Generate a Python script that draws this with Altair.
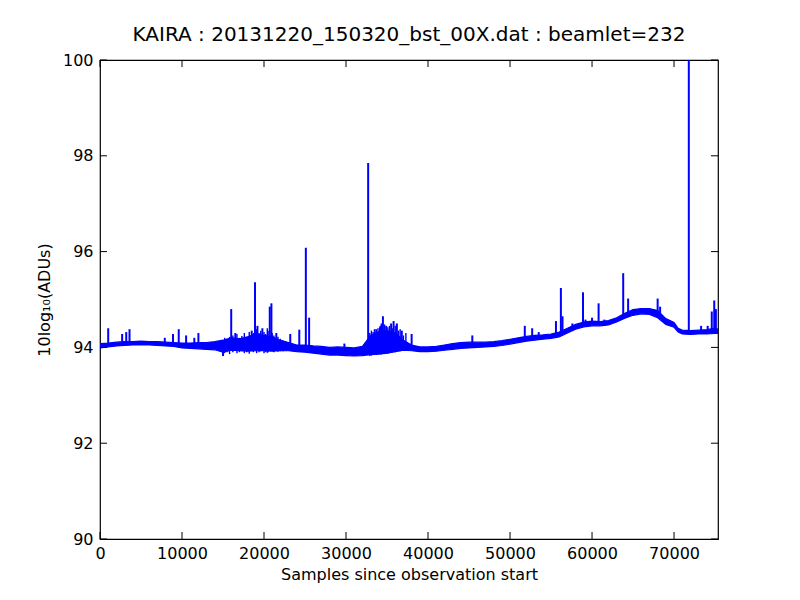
import altair as alt
import pandas as pd

# Band (noise envelope)
band_x = [0, 1000, 2000, 3000, 4000, 5000, 6000, 7000, 8000, 9000,
          10000, 11000, 12000, 13000, 14000, 15000, 16000, 17000, 18000, 19000,
          20000, 21000, 22000, 23000, 24000, 25000, 26000, 27000, 28000, 29000,
          30000, 31000, 32000, 33000, 34000, 35000, 36000, 37000, 38000, 39000,
          40000, 41000, 42000, 43000, 44000, 45000, 46000, 47000, 48000, 49000,
          50000, 51000, 52000, 53000, 54000, 55000, 56000, 57000, 58000, 59000,
          60000, 61000, 62000, 63000, 64000, 65000, 66000, 67000, 68000, 69000,
          70000, 70500, 71000, 72000, 73000, 74000, 75000, 75360]
band_lo = [93.99, 94.01, 94.03, 94.04, 94.05, 94.05, 94.05, 94.04, 94.03, 94.02,
           93.99, 93.98, 93.97, 93.96, 93.95, 93.90, 93.94, 93.93, 93.92, 93.93,
           93.93, 93.92, 93.93, 93.93, 93.91, 93.90, 93.88, 93.86, 93.84, 93.84,
           93.83, 93.82, 93.83, 93.85, 93.86, 93.88, 93.91, 93.94, 93.93, 93.91,
           93.91, 93.92, 93.94, 93.96, 93.98, 93.99, 94.00, 94.01, 94.02, 94.04,
           94.07, 94.10, 94.13, 94.15, 94.17, 94.19, 94.22, 94.30, 94.38, 94.43,
           94.45, 94.45, 94.47, 94.53, 94.61, 94.67, 94.70, 94.69, 94.62, 94.48,
           94.42, 94.32, 94.28, 94.27, 94.28, 94.28, 94.29, 94.29]
band_hi = [94.08, 94.09, 94.11, 94.12, 94.12, 94.13, 94.12, 94.12, 94.11, 94.10,
           94.09, 94.09, 94.10, 94.10, 94.12, 94.15, 94.20, 94.18, 94.22, 94.28,
           94.25, 94.22, 94.15, 94.10, 94.05, 94.05, 94.03, 94.02, 94.00, 94.01,
           94.00, 93.99, 94.02, 94.25, 94.33, 94.35, 94.30, 94.15, 94.05, 94.01,
           94.01, 94.02, 94.05, 94.08, 94.10, 94.11, 94.11, 94.11, 94.12, 94.14,
           94.17, 94.20, 94.23, 94.25, 94.26, 94.28, 94.32, 94.40, 94.48, 94.53,
           94.55, 94.54, 94.56, 94.62, 94.71, 94.79, 94.81, 94.81, 94.77, 94.60,
           94.52, 94.40, 94.36, 94.35, 94.36, 94.37, 94.40, 94.38]

# Spikes: position, peak, base
spike_x = [1000, 2700, 3200, 3600, 7900, 8900, 9600, 10500, 11500, 12000,
           15000, 16000, 16500, 18500, 18900, 19200, 19800, 20700, 20900, 21500,
           23200, 24300, 25100, 25500, 29800, 32700, 33500, 34200, 34500, 34900,
           35500, 35800, 36200, 36800, 38000, 45400, 51800, 52700, 53500, 55600,
           56200, 56400, 57600, 58900, 59200, 60000, 60800, 61500, 63800, 64400,
           68000, 68300, 71800, 73300, 74100, 74600, 74900, 75100]
spike_top = [94.40, 94.28, 94.32, 94.38, 94.20, 94.28, 94.38, 94.25, 94.20, 94.30,
             93.82, 94.80, 94.30, 94.35, 95.36, 94.45, 94.40, 94.85, 94.92, 94.30,
             94.28, 94.37, 96.08, 94.62, 94.08, 97.85, 94.38, 94.45, 94.65, 94.45,
             94.50, 94.55, 94.50, 94.35, 94.28, 94.25, 94.45, 94.40, 94.32, 94.55,
             95.24, 94.65, 94.50, 95.15, 94.58, 94.62, 94.92, 94.58, 95.55, 95.02,
             95.02, 94.85, 101.0, 94.45, 94.45, 94.75, 94.98, 94.80]
spike_base = [94.05, 94.08, 94.08, 94.08, 94.08, 94.08, 94.05, 94.05, 94.05, 94.05,
              94.05, 94.05, 94.05, 94.05, 94.05, 94.05, 94.05, 94.05, 94.05, 94.05,
              94.00, 94.00, 93.98, 93.98, 93.95, 93.95, 94.00, 94.00, 94.00, 94.00,
              94.00, 94.00, 94.00, 94.00, 94.00, 94.05, 94.15, 94.18, 94.20, 94.25,
              94.28, 94.28, 94.35, 94.45, 94.45, 94.50, 94.50, 94.50, 94.60, 94.65,
              94.70, 94.65, 94.30, 94.32, 94.32, 94.32, 94.32, 94.32]

# Dense small noise excursions in the two disturbed stretches
noise_x = [14600, 14900, 15200, 15500, 15800, 16200, 16700, 17000, 17300, 17600,
           17900, 18200, 18700, 19100, 19400, 19600, 20000, 20200, 20400, 20500,
           21000, 21200, 21700, 22000, 22300,
           32900, 33100, 33300, 33700, 33900, 34100, 34300, 34700, 35100, 35300,
           35700, 36000, 36400, 36600, 37000, 37300]
noise_top = [94.12, 94.15, 94.20, 94.18, 94.22, 94.25, 94.28, 94.20, 94.24, 94.30,
             94.22, 94.32, 94.30, 94.38, 94.30, 94.35, 94.32, 94.28, 94.40, 94.35,
             94.30, 94.25, 94.22, 94.18, 94.15,
             94.30, 94.35, 94.32, 94.38, 94.40, 94.42, 94.50, 94.48, 94.42, 94.45,
             94.40, 94.45, 94.35, 94.38, 94.25, 94.30]
noise_base = [93.92, 93.90, 93.88, 93.90, 93.86, 93.90, 93.88, 93.90, 93.92, 93.88,
              93.90, 93.87, 93.90, 93.88, 93.90, 93.92, 93.88, 93.90, 93.89, 93.90,
              93.92, 93.90, 93.91, 93.92, 93.92,
              93.82, 93.83, 93.84, 93.84, 93.85, 93.86, 93.85, 93.86, 93.87, 93.88,
              93.90, 93.90, 93.92, 93.92, 93.94, 93.94]

x_ticks = [0, 10000, 20000, 30000, 40000, 50000, 60000, 70000]
y_ticks = [90, 92, 94, 96, 98, 100]

X_MAX = 75360
W, H = 618, 479
BLUE = "#0000ff"
FONT = "DejaVu Sans"

band = pd.DataFrame({"x": band_x, "lo": band_lo, "hi": band_hi})
spikes = pd.DataFrame({"x": spike_x, "top": spike_top, "base": spike_base})
noise = pd.DataFrame({"x": noise_x, "top": noise_top, "base": noise_base})
xt = pd.DataFrame({"x": x_ticks})
yt = pd.DataFrame({"y": y_ticks})

xscale = alt.Scale(domain=[0, X_MAX], nice=False, zero=False)
yscale = alt.Scale(domain=[90, 100], nice=False, zero=False)

xaxis = alt.Axis(values=x_ticks, format="d", tickSize=0, labelPadding=6, domain=False,
                 grid=False, labelFont=FONT, labelFontSize=16, labelColor="black",
                 title="Samples since observation start", titleFont=FONT,
                 titleFontSize=16, titleFontWeight="normal", titleColor="black",
                 titlePadding=5, labelFlush=False)
yaxis = alt.Axis(values=y_ticks, format="d", tickSize=0, labelPadding=7, domain=False,
                 grid=False, labelFont=FONT, labelFontSize=16, labelColor="black",
                 title="10log₁₀(ADUs)", titleFont=FONT, titleFontSize=16,
                 titleFontWeight="normal", titleColor="black", titlePadding=10,
                 labelFlush=False)

area = alt.Chart(band).mark_area(color=BLUE, opacity=1, stroke=BLUE, strokeWidth=1.2,
                                 clip=True).encode(
    x=alt.X("x:Q", scale=xscale, axis=xaxis),
    y=alt.Y("lo:Q", scale=yscale, axis=yaxis),
    y2="hi:Q",
)

noise_rules = alt.Chart(noise).mark_rule(color=BLUE, strokeWidth=1.4, clip=True).encode(
    x=alt.X("x:Q", scale=xscale),
    y=alt.Y("top:Q", scale=yscale),
    y2="base:Q",
)

rules = alt.Chart(spikes).mark_rule(color=BLUE, strokeWidth=2, clip=True).encode(
    x=alt.X("x:Q", scale=xscale),
    y=alt.Y("top:Q", scale=yscale),
    y2="base:Q",
)

tick_len = 7
xt_bottom = alt.Chart(xt).mark_rule(color="black", strokeWidth=1).encode(
    x=alt.X("x:Q", scale=xscale), y=alt.value(H), y2=alt.value(H - tick_len))
xt_top = alt.Chart(xt).mark_rule(color="black", strokeWidth=1).encode(
    x=alt.X("x:Q", scale=xscale), y=alt.value(0), y2=alt.value(tick_len))
yt_left = alt.Chart(yt).mark_rule(color="black", strokeWidth=1).encode(
    y=alt.Y("y:Q", scale=yscale), x=alt.value(0), x2=alt.value(tick_len))
yt_right = alt.Chart(yt).mark_rule(color="black", strokeWidth=1).encode(
    y=alt.Y("y:Q", scale=yscale), x=alt.value(W), x2=alt.value(W - tick_len))

chart = alt.layer(area, noise_rules, rules, xt_bottom, xt_top, yt_left, yt_right).properties(
    width=W, height=H,
    title=alt.TitleParams("KAIRA : 20131220_150320_bst_00X.dat : beamlet=232",
                          font=FONT, fontSize=20, fontWeight="normal", color="black",
                          anchor="middle", offset=7),
    autosize=alt.AutoSizeParams(type="none"),
    padding={"left": 92, "top": 52, "right": 60, "bottom": 55},
).configure(background="white").configure_view(stroke="black", strokeWidth=1.2)

chart.save("out.html", embed_options={"renderer": "svg", "actions": False})
